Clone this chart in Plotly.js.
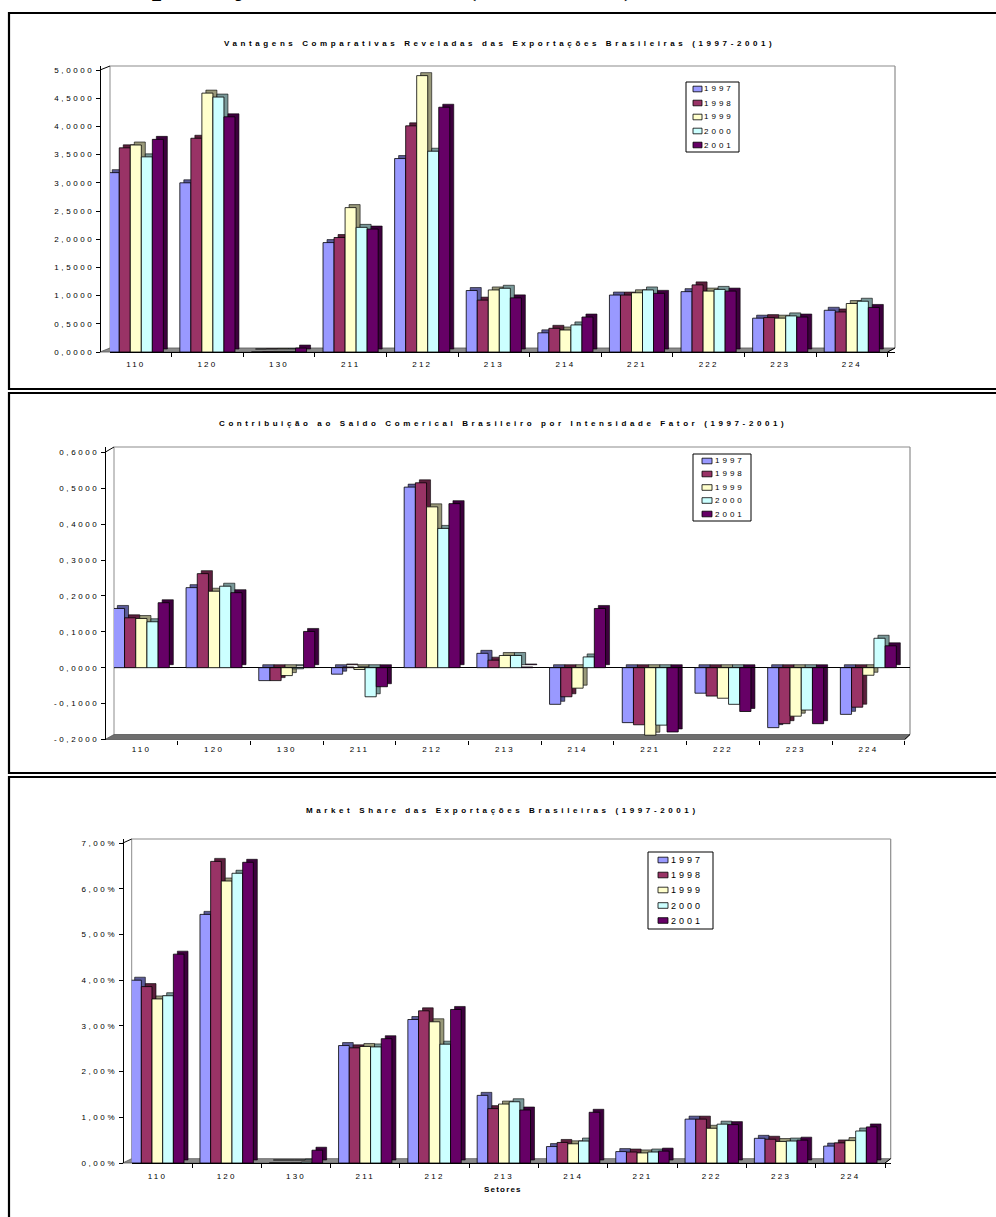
<!DOCTYPE html>
<html>
<head>
<meta charset="utf-8">
<script src="https://cdn.plot.ly/plotly-3.0.1.min.js"></script>
<style>
  html, body { margin: 0; padding: 0; background: #fff; }
  #chart { width: 996px; height: 1217px; }
  .yaxislayer-above text { letter-spacing: 2.6px; }
  .xaxislayer-above text { letter-spacing: 2.2px; }
  .annotation-text[style*="Arial"] { letter-spacing: 3.6px; }
  .annotation-text[style*="Liberation Sans"] { letter-spacing: 3px; }
  .annotation-text[style*="sans-serif"] { letter-spacing: 1.2px; }
</style>
</head>
<body>
<div id="chart"></div>
<script>
// Sectors (categories) and years (series)
const sectors = ['110', '120', '130', '211', '212', '213', '214', '221', '222', '223', '224'];
const years = ['1997', '1998', '1999', '2000', '2001'];

// Vantagens Comparativas Reveladas
const vcr1997 = [3.18, 3.00, 0.00, 1.94, 3.43, 1.09, 0.34, 1.01, 1.07, 0.60, 0.74];
const vcr1998 = [3.62, 3.79, 0.005, 2.03, 4.01, 0.92, 0.42, 1.01, 1.19, 0.61, 0.71];
const vcr1999 = [3.67, 4.59, 0.01, 2.56, 4.90, 1.10, 0.39, 1.05, 1.08, 0.60, 0.86];
const vcr2000 = [3.46, 4.52, 0.01, 2.21, 3.56, 1.13, 0.48, 1.10, 1.11, 0.64, 0.90];
const vcr2001 = [3.77, 4.17, 0.07, 2.18, 4.34, 0.96, 0.62, 1.04, 1.08, 0.62, 0.79];

// Contribuição ao saldo comercial
const csc1997 = [0.165, 0.223, -0.036, -0.018, 0.503, 0.040, -0.102, -0.153, -0.071, -0.167, -0.130];
const csc1998 = [0.139, 0.262, -0.036, 0.002, 0.515, 0.021, -0.081, -0.159, -0.079, -0.156, -0.110];
const csc1999 = [0.137, 0.213, -0.022, -0.005, 0.448, 0.034, -0.057, -0.188, -0.085, -0.135, -0.021];
const csc2000 = [0.128, 0.227, -0.003, -0.081, 0.388, 0.034, 0.030, -0.160, -0.102, -0.118, 0.082];
const csc2001 = [0.181, 0.209, 0.101, -0.053, 0.457, 0.002, 0.165, -0.179, -0.122, -0.156, 0.061];

// Market share (%)
const ms1997 = [4.00, 5.44, 0.00, 2.57, 3.14, 1.48, 0.36, 0.25, 0.96, 0.54, 0.37];
const ms1998 = [3.86, 6.60, 0.00, 2.52, 3.33, 1.19, 0.45, 0.24, 0.96, 0.52, 0.44];
const ms1999 = [3.59, 6.17, 0.00, 2.55, 3.09, 1.29, 0.42, 0.22, 0.76, 0.47, 0.49];
const ms2000 = [3.66, 6.34, 0.02, 2.54, 2.60, 1.34, 0.48, 0.24, 0.85, 0.48, 0.70];
const ms2001 = [4.57, 6.58, 0.28, 2.72, 3.36, 1.16, 1.11, 0.26, 0.84, 0.50, 0.79];

// Axis tick values
const vcrTicks = [0, 0.5, 1, 1.5, 2, 2.5, 3, 3.5, 4, 4.5, 5];
const cscTicks = [-0.2, -0.1, 0, 0.1, 0.2, 0.3, 0.4, 0.5, 0.6];
const msTicks = [0, 1, 2, 3, 4, 5, 6, 7];

const W = 996, H = 1217;
const px = x => x / W;
const py = y => 1 - y / H;

const faceColors = ['#9999FF', '#993366', '#FFFFCC', '#CCFFFF', '#660066'];
const sideColors = ['#5C5C99', '#5C1F3D', '#99997A', '#7A9999', '#3D003D'];
const depthX = 4, depthY = 3;

const fmtComma = (v, d) => v.toFixed(d).replace('.', ',');

const charts = [
  {
    title: 'Vantagens Comparativas Reveladas das Exportações Brasileiras (1997-2001)',
    series: [vcr1997, vcr1998, vcr1999, vcr2000, vcr2001],
    ticks: vcrTicks, tickText: vcrTicks.map(v => fmtComma(v, 4)),
    axisX: 100, step: 71.6, yZero: 352, perUnit: 56.4, yMin: 0,
    wall: { left: 110, right: 895, top: 66, dy: 4 },
    titlePos: [499, 43], standoff: 4,
    legend: { box: [686, 82, 739, 152], rows: [89, 103, 117, 131, 145], sw: [693, 702], textX: 703, size: 8 },
    panel: [13, 389], floor: '#8c8c8c', zeroGrid: true, zeroline: false, zeroTicks: false
  },
  {
    title: 'Contribuição ao Saldo Comerical Brasileiro por Intensidade Fator (1997-2001)',
    series: [csc1997, csc1998, csc1999, csc2000, csc2001],
    ticks: cscTicks, tickText: cscTicks.map(v => fmtComma(v, 4)),
    axisX: 105, step: 72.7, yZero: 667.7, perUnit: 359, yMin: -0.2,
    wall: { left: 114, right: 910, top: 447, dy: 5 },
    titlePos: [503, 423], standoff: 3,
    legend: { box: [693, 454, 751, 521], rows: [461, 474, 487.5, 500.5, 514], sw: [702, 712], textX: 714, size: 8 },
    panel: [393, 773], floor: '#6e6e6e', zeroGrid: false, zeroline: true, zeroTicks: true
  },
  {
    title: 'Market Share das Exportações Brasileiras (1997-2001)',
    series: [ms1997, ms1998, ms1999, ms2000, ms2001],
    ticks: msTicks, tickText: msTicks.map(v => fmtComma(v, 2) + '%'),
    axisX: 122.7, step: 69.3, yZero: 1163, perUnit: 45.7, yMin: 0,
    wall: { left: 131.7, right: 890.7, top: 839, dy: 4.3 },
    titlePos: [502, 810], standoff: 5,
    legend: { box: [648, 852, 713, 929], rows: [860, 875, 890, 905.5, 920.5], sw: [658, 668], textX: 670, size: 9 },
    panel: [777, 1230], floor: '#8c8c8c', zeroGrid: true, zeroline: false, zeroTicks: false
  }
];

const traces = [];
const layout = {
  width: W, height: H,
  margin: { l: 0, r: 0, t: 0, b: 0 },
  paper_bgcolor: '#ffffff',
  plot_bgcolor: 'rgba(0,0,0,0)',
  showlegend: false,
  barmode: 'group',
  bargap: 0.23,
  bargroupgap: 0,
  font: { family: 'Liberation Sans', size: 8, color: '#000' },
  shapes: [],
  annotations: []
};

const axName = (letter, n) => letter + 'axis' + (n === 1 ? '' : n);
const axRef = (letter, n) => letter + (n === 1 ? '' : n);

// Shadow (depth) bars first so they sit beneath the front faces
charts.forEach((c, i) => {
  const s = i + 4;
  c.series.forEach((vals, j) => {
    traces.push({
      type: 'bar', x: sectors, y: vals, name: years[j],
      xaxis: axRef('x', s), yaxis: axRef('y', s),
      marker: { color: sideColors[j], line: { color: '#000', width: 0.6 } },
      hoverinfo: 'skip', showlegend: false
    });
  });
});
charts.forEach((c, i) => {
  const f = i + 7;
  c.series.forEach((vals, j) => {
    traces.push({
      type: 'bar', x: sectors, y: vals, name: years[j],
      xaxis: axRef('x', f), yaxis: axRef('y', f),
      marker: { color: faceColors[j], line: { color: '#000', width: 0.8 } },
      showlegend: false
    });
  });
});

const tickFont = { family: 'Liberation Sans', size: 8, color: '#000' };

charts.forEach((c, i) => {
  const m = i + 1, s = i + 4, f = i + 7;
  const L = c.wall.left, R = c.wall.right, T = c.wall.top, dy = c.wall.dy;
  const B = c.yZero - c.yMin * c.perUnit;        // front bottom pixel
  const span = (B - T) / c.perUnit;
  const frontY = [c.yMin, c.yMin + span];
  const wallY = [c.yMin - dy / c.perUnit, c.yMin + span - dy / c.perUnit];
  const frontX = [-0.5 + (L - c.axisX) / c.step, -0.5 + (R - c.axisX) / c.step];
  const domX = [px(L), px(R)], domY = [py(B), py(T)];

  // Back wall: carries the gridlines (and, where values go negative, the ticks of the zero plane)
  const boundaries = [];
  for (let b = 1; b <= sectors.length; b++) boundaries.push((c.axisX + b * c.step - L) / (R - L));
  layout[axName('x', m)] = {
    domain: domX, range: [0, 1],
    anchor: c.zeroTicks ? 'free' : axRef('y', m), position: c.zeroTicks ? py(c.yZero) : 0,
    tickmode: 'array', tickvals: boundaries,
    ticks: c.zeroTicks ? 'outside' : '', ticklen: 4, tickcolor: '#000',
    showgrid: false, showticklabels: false, zeroline: false, showline: false, fixedrange: true
  };
  layout[axName('y', m)] = {
    domain: domY, anchor: axRef('x', m), range: wallY,
    tickmode: 'array', tickvals: c.ticks.filter(v => c.zeroGrid || v !== 0),
    showgrid: true, gridcolor: '#3c3c3c', gridwidth: 1,
    showticklabels: false, ticks: '', zeroline: false, showline: false, fixedrange: true
  };

  // Depth layer
  layout[axName('x', s)] = {
    overlaying: axRef('x', m), domain: domX, anchor: axRef('y', s), type: 'category',
    categoryorder: 'array', categoryarray: sectors,
    range: [frontX[0] - depthX / c.step, frontX[1] - depthX / c.step], visible: false, fixedrange: true
  };
  layout[axName('y', s)] = {
    overlaying: axRef('y', m), domain: domY, anchor: axRef('x', s),
    range: [frontY[0] - depthY / c.perUnit, frontY[1] - depthY / c.perUnit], visible: false, fixedrange: true
  };

  // Front faces with the visible axes
  layout[axName('x', f)] = {
    overlaying: axRef('x', m), domain: domX, anchor: axRef('y', f), type: 'category',
    categoryorder: 'array', categoryarray: sectors, range: frontX,
    tickson: 'boundaries', ticks: 'outside', ticklen: 4, tickcolor: '#000', tickwidth: 1,
    ticklabelstandoff: c.standoff,
    showline: i !== 1, linecolor: '#000', linewidth: 1,
    showgrid: false, zeroline: false, tickfont: tickFont, fixedrange: true
  };
  layout[axName('y', f)] = {
    overlaying: axRef('y', m), domain: domY, anchor: 'free', position: px(L), shift: -(L - c.axisX), side: 'left',
    range: frontY, tickmode: 'array', tickvals: c.ticks, ticktext: c.tickText,
    ticks: 'outside', ticklen: 4, tickcolor: '#000', tickwidth: 1,
    showline: true, linecolor: '#000', linewidth: 1.3,
    showgrid: false, zeroline: c.zeroline, zerolinecolor: '#000', zerolinewidth: 1,
    tickfont: tickFont, fixedrange: true
  };

  // Wall edges and floor
  const frontRight = c.axisX + 11 * c.step;
  const line = (x0, y0, x1, y1, color, width, layer) => ({
    type: 'line', xref: 'paper', yref: 'paper', x0: px(x0), y0: py(y0), x1: px(x1), y1: py(y1),
    line: { color: color, width: width }, layer: layer || 'below'
  });
  layout.shapes.push(line(L, T, L, B - dy, '#8c8c8c', 1));
  layout.shapes.push(line(L, T, R, T, '#8c8c8c', 1.2));
  layout.shapes.push(line(R, T, R, B - dy, '#8c8c8c', 1.2));
  layout.shapes.push({
    type: 'path', xref: 'paper', yref: 'paper', layer: 'below',
    path: `M${px(c.axisX)},${py(B)} L${px(L)},${py(B - dy)} L${px(R)},${py(B - dy)} L${px(frontRight)},${py(B)} Z`,
    fillcolor: c.floor, line: { color: '#555', width: 0.8 }
  });
  // connectors from the front axis to the wall
  const topTickY = c.yZero - c.ticks[c.ticks.length - 1] * c.perUnit;
  layout.shapes.push(line(c.axisX, topTickY, L, T, '#000', 1, 'above'));
  layout.shapes.push(line(frontRight, B, R, B - dy, '#000', 1, 'above'));

  // Panel frame
  layout.shapes.push({
    type: 'rect', xref: 'paper', yref: 'paper', layer: 'above',
    x0: px(9), x1: px(1010), y0: py(c.panel[1]), y1: py(c.panel[0]),
    line: { color: '#000', width: 2.2 }, fillcolor: 'rgba(0,0,0,0)'
  });

  // Title
  layout.annotations.push({
    text: c.title, xref: 'paper', yref: 'paper', x: px(c.titlePos[0]), y: py(c.titlePos[1]),
    xanchor: 'center', yanchor: 'middle', showarrow: false,
    font: { family: 'Arial', size: 8, weight: 'bold', color: '#000' }
  });

  // Legend box
  const lg = c.legend;
  layout.shapes.push({
    type: 'rect', xref: 'paper', yref: 'paper', layer: 'above',
    x0: px(lg.box[0]), x1: px(lg.box[2]), y0: py(lg.box[3]), y1: py(lg.box[1]),
    line: { color: '#000', width: 1 }, fillcolor: '#ffffff'
  });
  years.forEach((yr, j) => {
    const r = lg.rows[j];
    layout.shapes.push({
      type: 'rect', xref: 'paper', yref: 'paper', layer: 'above',
      x0: px(lg.sw[0]), x1: px(lg.sw[1]), y0: py(r + 2.8), y1: py(r - 2.8),
      line: { color: '#000', width: 0.8 }, fillcolor: faceColors[j]
    });
    layout.annotations.push({
      text: yr, xref: 'paper', yref: 'paper', x: px(lg.textX), y: py(r),
      xanchor: 'left', yanchor: 'middle', showarrow: false, borderpad: 0,
      font: { family: 'Liberation Sans', size: lg.size, color: '#000' }
    });
  });
});

// Axis label of the last panel
layout.annotations.push({
  text: 'Setores', xref: 'paper', yref: 'paper', x: px(503), y: py(1189),
  xanchor: 'center', yanchor: 'middle', showarrow: false,
  font: { family: 'Liberation Sans, sans-serif', size: 8, weight: 'bold', color: '#000' }
});

// Heading of the page, partly above the top edge
layout.annotations.push({
  text: 'Exportações Brasileiras (1997-2001)', xref: 'paper', yref: 'paper',
  x: px(111), y: py(3), xanchor: 'left', yanchor: 'bottom', showarrow: false, borderpad: 0,
  font: { family: 'Liberation Serif', size: 34, weight: 'bold', color: '#000' }
});

Plotly.newPlot('chart', traces, layout, { staticPlot: true, displayModeBar: false });
</script>
</body>
</html>
